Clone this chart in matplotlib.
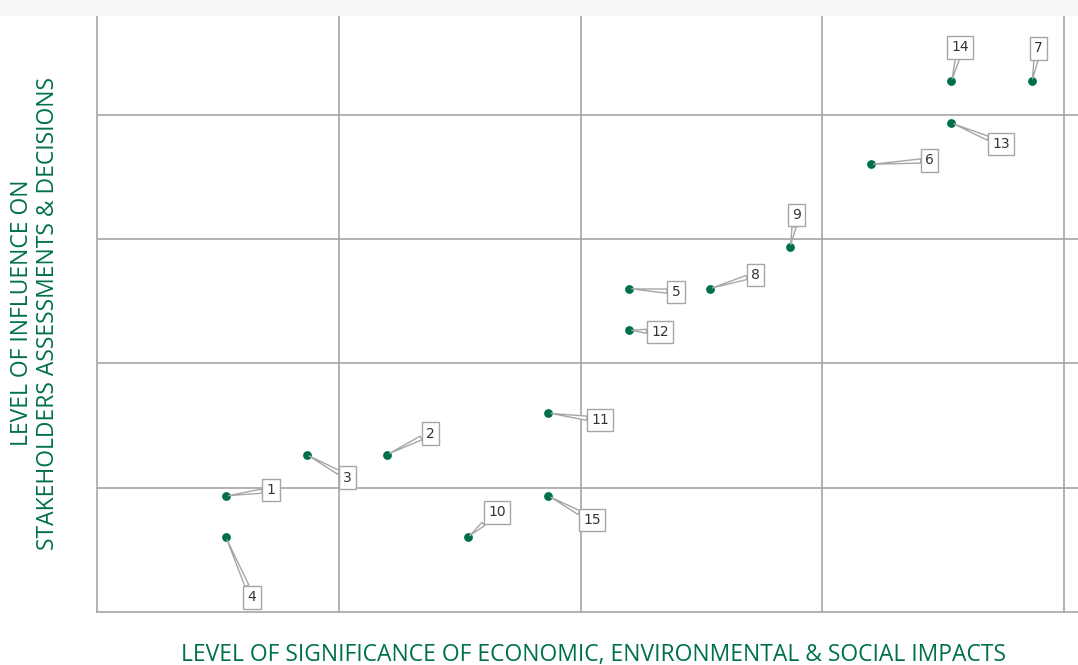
import matplotlib.pyplot as plt
from matplotlib.patches import Rectangle

labels = ['1', '2', '3', '4', '5', '6', '7', '8', '9', '10', '11', '12', '13', '14', '15']
significance = [1.6, 3.6, 2.6, 1.6, 6.6, 9.6, 11.6, 7.6, 8.6, 4.6, 5.6, 6.6, 10.6, 10.6, 5.6]
influence = [2.8, 3.8, 3.8, 1.8, 7.8, 10.8, 12.8, 7.8, 8.8, 1.8, 4.8, 6.8, 11.8, 12.8, 2.8]
# where each callout box sits relative to its point (pixels)
offsets = [(45, 6), (43, 21), (41, -23), (26, -60), (47, -3), (59, 4), (6, 33), (46, 14),
           (6, 32), (29, 25), (52, -7), (31, -2), (50, -21), (9, 34), (44, -24)]

green = '#00704a'
grid_c = '#a6a6a6'

fig = plt.figure(figsize=(10.78, 6.65), dpi=100)
fig.patches.append(Rectangle((0, 1 - 16 / 665), 1, 16 / 665, transform=fig.transFigure,
                             facecolor='#f7f9f9', edgecolor='none', zorder=0))
ax = fig.add_axes([97 / 1078, 53 / 665, 981 / 1078, 596 / 665])

ax.scatter(significance, influence, s=40, color=green, zorder=4, linewidths=0)
for lab, x, y, (dx, dy) in zip(labels, significance, influence, offsets):
    ax.annotate(lab, (x, y), xytext=(dx, dy), textcoords='offset pixels',
                ha='center', va='center', fontsize=10, color='#333333', zorder=5,
                bbox=dict(boxstyle='square,pad=0.3', fc='white', ec=grid_c, lw=1),
                arrowprops=dict(arrowstyle='wedge,tail_width=0.3,shrink_factor=0.5',
                                fc='white', ec=grid_c, lw=1, shrinkA=0, shrinkB=2))

ax.set_xlim(0, 12.17)
ax.set_ylim(0, 14.38)
ax.set_xticks([3, 6, 9, 12])
ax.set_yticks([3, 6, 9, 12])
ax.grid(True, color=grid_c, lw=1.2)
ax.set_axisbelow(True)
ax.tick_params(length=0, labelbottom=False, labelleft=False)
for s in ['top', 'right']:
    ax.spines[s].set_visible(False)
for s in ['left', 'bottom']:
    ax.spines[s].set_color(grid_c)
    ax.spines[s].set_linewidth(1.2)

fig.text(594 / 1078, 1 - 655 / 665, 'LEVEL OF SIGNIFICANCE OF ECONOMIC, ENVIRONMENTAL & SOCIAL IMPACTS',
         ha='center', va='center', color=green, fontsize=16.5, family='Open Sans')
fig.text(35 / 1078, 1 - 313 / 665, 'LEVEL OF INFLUENCE ON\nSTAKEHOLDERS ASSESSMENTS & DECISIONS',
         ha='center', va='center', rotation=90, color=green, fontsize=16.5,
         family='Open Sans', linespacing=1.12, multialignment='center')

fig.savefig('out.png', dpi=100)
